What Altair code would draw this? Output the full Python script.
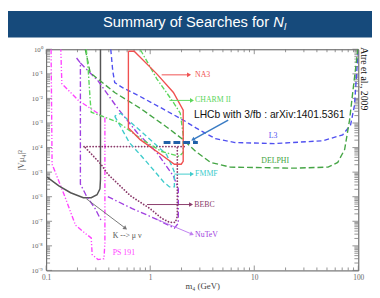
import json
import altair as alt
import pandas as pd

# ---------------- data (m in GeV, |V|^2) ----------------
na3_m = [0.617, 0.702, 1.157, 1.671, 2.075, 2.075, 1.987, 1.708, 1.157, 0.80, 0.6725, 0.617, 0.617]
na3_u = [0.83, 0.83, 0.1, 0.0174, 0.0033, 2.75e-5, 2.1e-5, 2.1e-5, 6.9e-5, 2.1e-4, 4.4e-4, 6.3e-4, 0.83]

charm_m = [0.243, 0.254, 0.265, 0.271, 0.486, 0.836, 1.289, 1.902, 2.075, 2.075, 1.945, 1.671, 1.157, 0.80]
charm_u = [1.0, 0.132, 0.0083, 0.00275, 0.0011, 2.1e-4, 6.9e-5, 4.4e-5, 6.3e-5, 3.3e-4, 0.0025, 0.0069, 0.063, 1.0]

delphi_m = [0.2377, 0.2652, 0.4558, 0.80, 1.436, 2.075, 2.748, 3.80, 5.87, 24.0, 51.2, 63.5, 73.9, 82.4, 90.0, 96.0, 99.0]
delphi_u = [1.0, 0.11, 0.0174, 0.004, 6.9e-4, 2.1e-4, 6.9e-5, 2.5e-5, 1.6e-5, 1.45e-5, 1.6e-5, 2.5e-5, 8.3e-5, 0.00132, 0.033, 0.33, 1.0]

l3_m = [0.4178, 0.4365, 0.4558, 0.542, 0.80, 1.289, 2.075, 2.748, 4.238, 6.543, 15.57, 45.96, 70.8, 84.3, 91.9, 96.0, 99.5]
l3_u = [1.0, 0.132, 0.044, 0.0275, 0.012, 0.004, 0.00132, 6.3e-4, 2.3e-4, 1.6e-4, 1.45e-4, 1.9e-4, 3.3e-4, 8.3e-4, 0.0052, 0.083, 0.83]

fmmf_m = [0.4558, 0.630, 0.932, 1.346, 1.532, 1.708, 1.708, 1.635, 1.436, 0.932, 0.519, 0.4558]
fmmf_u = [0.0019, 1.6e-4, 2.5e-5, 4.0e-6, 2.5e-6, 2.5e-6, 1e-5, 1.6e-5, 5.2e-5, 2.75e-4, 0.0025, 0.0019]

bebc_m = [2.121, 0.2277, 0.2377, 0.3365, 0.3915, 0.644, 0.9936, 1.289, 1.532, 1.745, 1.822, 1.822]
bebc_u = [1.1e-4, 1.1e-4, 1e-4, 2.1e-5, 8.3e-6, 1.1e-6, 3.3e-7, 1.32e-7, 9.1e-8, 9.1e-8, 1.6e-7, 1.1e-4]

nutev_a_m = [0.196, 0.2133, 0.2133, 0.243, 0.2955, 0.3365]
nutev_a_u = [0.44, 0.275, 3.3e-6, 1.1e-6, 3.3e-7, 1.1e-7]
nutev_b_m = [0.2133, 0.3152, 0.4863, 0.7493, 1.157, 1.671, 1.862, 1.862, 1.708, 1.157, 0.6725, 0.3915]
nutev_b_u = [0.275, 0.052, 0.004, 4e-4, 6.3e-5, 6.9e-6, 2.1e-6, 8.3e-8, 5.2e-8, 1.2e-7, 3.3e-7, 1e-6]

ps191_m = [0.1115, 0.114, 0.1477, 0.1914, 0.243, 0.271, 0.2768, 0.3152, 0.3592, 0.3669, 0.3669, 0.2042, 0.1415, 0.1383]
ps191_u = [1.0, 2.1e-5, 1.32e-6, 6.9e-8, 3.0e-8, 2.1e-8, 4.4e-9, 2.75e-9, 3.0e-9, 1.32e-8, 0.0016, 0.0083, 0.04, 1.0]

kmu_m = [0.3327, 0.3327, 0.329, 0.3083, 0.271, 0.2277, 0.1718, 0.1324, 0.102]
kmu_u = [1.0, 5.2e-6, 2.1e-6, 1.2e-6, 9.1e-7, 9.1e-7, 1.45e-6, 2.75e-6, 6.3e-6]

lhcb_m = [1.346, 2.87]
lhcb_u = [1.6e-4, 1.6e-4]

# arrows: (m_start, u_start, m_end, u_end)
arrow_na3 = [1.289, 0.091, 2.363, 0.091]
arrow_charm = [1.532, 0.0083, 2.52, 0.0083]
arrow_fmmf = [1.708, 8.3e-6, 2.52, 8.3e-6]
arrow_bebc = [0.932, 4.8e-7, 2.468, 4.8e-7]
arrow_nutev = [1.157, 1.2e-7, 2.52, 3.0e-8]
arrow_k = [0.243, 8.3e-7, 0.578, 5.2e-8]
arrow_lhcb = [5.62, 0.00132, 2.574, 2.1e-4]

# labels: (text, m, u)
label_text = ["NA3", "CHARM II", "FMMF", "BEBC", "NuTeV", "K --> \u03bc \u03bd", "PS 191", "L3", "DELPHI"]
label_m = [2.7, 2.7, 2.7, 2.65, 2.7, 0.436, 0.436, 15.2, 15.9]
label_u = [0.091, 0.0083, 8.3e-6, 4.6e-7, 2.75e-8, 2.5e-8, 5.2e-9, 3.0e-4, 2.75e-5]

lhcb_text = "LHCb with 3/fb : arXiv:1401.5361"
lhcb_text_pos = [13.96, 0.0021]

x_major = [0.1, 1, 10, 100]
x_minor = [k * 10.0 ** e for e in (-1, 0, 1) for k in range(2, 10)]
y_major = [10.0 ** e for e in range(-9, 1)]
y_minor = [k * 10.0 ** e for e in range(-9, 0) for k in range(2, 10)]
y_tick_labels = ["10\u207b\u2079", "10\u207b\u2078", "10\u207b\u2077", "10\u207b\u2076", "10\u207b\u2075",
                 "10\u207b\u2074", "10\u207b\u00b3", "10\u207b\u00b2", "10\u207b\u00b9", "10\u2070"]

# ---------------- style ----------------
W, H = 319, 226
HEADER = "#164a7b"
TICK = "#777777"
SERIF = "Liberation Serif"
SANS = "Liberation Sans"
C_NA3 = "#f05050"
C_CHARM = "#5cd65c"
C_DELPHI = "#45a545"
C_L3 = "#5050f0"
C_FMMF = "#40cccc"
C_BEBC = "#8a3a6a"
C_NUTEV = "#a040e0"
C_PS = "#ff44ff"
C_K = "#555555"
C_LHCB = "#2060a8"

xs = alt.Scale(type="log", domain=[0.1, 100])
ys = alt.Scale(type="log", domain=[1e-9, 1])

label_expr = json.dumps(y_tick_labels, ensure_ascii=False) + "[round(log(datum.value)/LN10) + 9]"

AX = alt.Axis(
    values=x_major, format="~g", ticks=False, domain=False, grid=False, labelFlush=False,
    labelFont=SERIF, labelFontSize=7.5, labelColor="#666666", labelPadding=3,
    title="m\u2084 (GeV)", titleFont=SERIF, titleFontSize=9, titleFontWeight="normal",
    titleColor="#444444", titlePadding=1)
AY = alt.Axis(
    values=y_major, labelExpr=label_expr, ticks=False, domain=False, grid=False,
    labelFont=SERIF, labelFontSize=7, labelColor="#666666", labelPadding=4,
    title="|V\u03bc\u2084|\u00b2", titleFont=SERIF, titleFontSize=9, titleFontWeight="normal",
    titleColor="#555555", titlePadding=6)


def X(field):
    return alt.X(field, scale=xs, axis=AX)


def Y(field):
    return alt.Y(field, scale=ys, axis=AY)


def curve(ms, us, color, dash=None, width=1.4, cap="butt"):
    df = pd.DataFrame({"m": ms, "u": us, "i": list(range(len(ms)))})
    kw = dict(color=color, strokeWidth=width, clip=True, strokeCap=cap)
    if dash:
        kw["strokeDash"] = dash
    return alt.Chart(df).mark_line(**kw).encode(x=X("m:Q"), y=Y("u:Q"), order="i:Q")


def arrow(a, color, angle, width=1.0):
    df = pd.DataFrame({"m": [a[0], a[2]], "u": [a[1], a[3]], "i": [0, 1]})
    line = alt.Chart(df).mark_line(color=color, strokeWidth=width).encode(
        x=X("m:Q"), y=Y("u:Q"), order="i:Q")
    head = alt.Chart(pd.DataFrame({"m": [a[2]], "u": [a[3]]})).mark_point(
        shape="triangle-up", filled=True, color=color, size=22, angle=angle, opacity=1
    ).encode(x=X("m:Q"), y=Y("u:Q"))
    return [line, head]


def xticks(vals, y0, y1):
    return alt.Chart(pd.DataFrame({"m": vals})).mark_rule(color=TICK, strokeWidth=0.8).encode(
        x=X("m:Q"), y=alt.value(y0), y2=alt.value(y1))


def yticks(vals, x0, x1):
    return alt.Chart(pd.DataFrame({"u": vals})).mark_rule(color=TICK, strokeWidth=0.8).encode(
        y=Y("u:Q"), x=alt.value(x0), x2=alt.value(x1))


one = pd.DataFrame({"a": [0]})
header = alt.Chart(one).mark_rect(color=HEADER).encode(
    x=alt.value(-39), x2=alt.value(340), y=alt.value(-39), y2=alt.value(-12)
)
title1 = alt.Chart(one).mark_text(
    text="Summary of Searches for", font=SANS, fontSize=15, color="white", align="left", baseline="alphabetic"
).encode(x=alt.value(58), y=alt.value(-23))
title2 = alt.Chart(one).mark_text(
    text="N", font=SANS, fontSize=15, fontStyle="italic", color="white", align="left", baseline="alphabetic"
).encode(x=alt.value(232), y=alt.value(-23))
title3 = alt.Chart(one).mark_text(
    text="l", font=SANS, fontSize=10, fontStyle="italic", color="white", align="left", baseline="alphabetic"
).encode(x=alt.value(243), y=alt.value(-20))

ticks = [
    xticks(x_major, H, H - 5), xticks(x_minor, H, H - 3),
    xticks(x_major, 0, 5), xticks(x_minor, 0, 3),
    yticks(y_major, 0, 6), yticks(y_minor, 0, 4),
    yticks(y_major, W, W - 6), yticks(y_minor, W, W - 4),
]

curves = [
    curve(ps191_m, ps191_u, C_PS, [5, 2, 1.2, 2, 1.2, 2]),
    curve(kmu_m, kmu_u, C_K, None, 1.5),
    curve(nutev_a_m, nutev_a_u, C_NUTEV, [6, 2.5, 1.5, 2.5]),
    curve(nutev_b_m, nutev_b_u, C_NUTEV, [6, 2.5, 1.5, 2.5]),
    curve(bebc_m, bebc_u, C_BEBC, [0.1, 3], 1.8, "round"),
    curve(fmmf_m, fmmf_u, C_FMMF, [5, 3]),
    curve(l3_m, l3_u, C_L3, [5, 3]),
    curve(delphi_m, delphi_u, C_DELPHI, [6, 3]),
    curve(charm_m, charm_u, C_CHARM, [5, 2, 1.5, 2]),
    curve(na3_m, na3_u, C_NA3, None, 1.4),
    curve(lhcb_m, lhcb_u, C_LHCB, [7, 3], 3),
]

arrows = (
    arrow(arrow_na3, C_NA3, 90)
    + arrow(arrow_charm, C_CHARM, 90)
    + arrow(arrow_fmmf, C_FMMF, 90)
    + arrow(arrow_bebc, C_BEBC, 90)
    + arrow(arrow_nutev, "#c080f0", 112.6)
    + arrow(arrow_k, "#777777", 126.9)
    + arrow(arrow_lhcb, "#3a7cc4", 240.9, 1.5)
)

label_colors = [C_NA3, C_CHARM, C_FMMF, C_BEBC, C_NUTEV, "#555555", C_PS, C_L3, C_DELPHI]
label_aligns = ["left"] * 7 + ["center", "center"]
labels = []
for t, m, u, c, al in zip(label_text, label_m, label_u, label_colors, label_aligns):
    labels.append(
        alt.Chart(pd.DataFrame({"m": [m], "u": [u], "t": [t]})).mark_text(
            font=SERIF, fontSize=8, color=c, align=al, baseline="middle"
        ).encode(x=X("m:Q"), y=Y("u:Q"), text="t:N")
    )

lhcb_label = alt.Chart(pd.DataFrame({"m": [lhcb_text_pos[0]], "u": [lhcb_text_pos[1]], "t": [lhcb_text]})).mark_text(
    font=SANS, fontSize=10.5, color="#111111", align="center", baseline="middle"
).encode(x=X("m:Q"), y=Y("u:Q"), text="t:N")

atre = alt.Chart(pd.DataFrame({"u": [0.063], "t": ["Atre et al., 2009"]})).mark_text(
    font=SERIF, fontSize=10, color="#111111", angle=90, align="center", baseline="middle"
).encode(x=alt.value(W + 6), y=Y("u:Q"), text="t:N")

chart = alt.layer(
    header, title1, title2, title3, *ticks, *curves, *arrows, *labels, lhcb_label, atre
).properties(
    width=W,
    height=H,
    padding={"left": 39, "top": 39, "right": 14, "bottom": 25},
    autosize=alt.AutoSizeParams(type="none"),
    background="white",
).configure_view(stroke="#555555", strokeWidth=1)

chart.save("out.html", embed_options={"renderer": "svg", "actions": False})
